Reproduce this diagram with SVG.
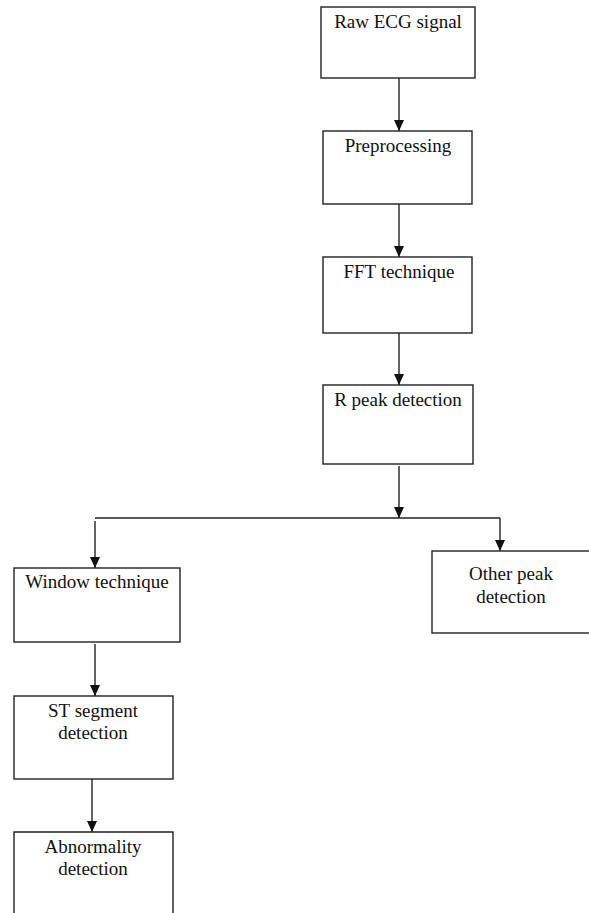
<svg xmlns="http://www.w3.org/2000/svg" width="589" height="913" viewBox="0 0 589 913">
<style>
.box{fill:#fff;stroke:#222;stroke-width:1.4}
.lbl{font-family:"Liberation Serif","Times New Roman",serif;font-size:19px;fill:#111;text-anchor:middle}
.edge{fill:none;stroke:#222;stroke-width:1.4}
</style>
<defs>
<marker id="ah" markerUnits="userSpaceOnUse" markerWidth="11" markerHeight="10" refX="11" refY="5" orient="auto">
<path d="M0,0 L11,5 L0,10 z" fill="#111"/>
</marker>
</defs>
<rect width="589" height="913" fill="#fff"/>
<g id="connectors">
<line class="edge" x1="399" y1="78" x2="399" y2="131" marker-end="url(#ah)"/>
<line class="edge" x1="399" y1="204" x2="399" y2="257" marker-end="url(#ah)"/>
<line class="edge" x1="399" y1="333" x2="399" y2="385" marker-end="url(#ah)"/>
<line class="edge" x1="399" y1="466" x2="399" y2="518" marker-end="url(#ah)"/>
<line class="edge" x1="95" y1="518" x2="500" y2="518"/>
<line class="edge" x1="500" y1="518" x2="500" y2="551" marker-end="url(#ah)"/>
<line class="edge" x1="95" y1="521" x2="95" y2="568" marker-end="url(#ah)"/>
<line class="edge" x1="95" y1="644" x2="95" y2="696" marker-end="url(#ah)"/>
<line class="edge" x1="92" y1="779" x2="92" y2="832" marker-end="url(#ah)"/>
</g>
<g id="raw">
<rect class="box" x="321" y="7" width="154" height="71"/>
<text class="lbl" x="398" y="28">Raw ECG signal</text>
</g>
<g id="preprocessing">
<rect class="box" x="323" y="131" width="149" height="73"/>
<text class="lbl" x="398" y="152">Preprocessing</text>
</g>
<g id="fft">
<rect class="box" x="323" y="257" width="149" height="76"/>
<text class="lbl" x="399" y="278">FFT technique</text>
</g>
<g id="rpeak">
<rect class="box" x="323" y="385" width="150" height="79"/>
<text class="lbl" x="398" y="406">R peak detection</text>
</g>
<g id="otherpeak">
<rect class="box" x="432" y="551" width="170" height="82"/>
<text class="lbl" x="511" y="580">Other peak</text>
<text class="lbl" x="511" y="603">detection</text>
</g>
<g id="window">
<rect class="box" x="14" y="568" width="166" height="74"/>
<text class="lbl" x="97" y="588">Window technique</text>
</g>
<g id="stsegment">
<rect class="box" x="14" y="696" width="159" height="83"/>
<text class="lbl" x="93" y="717">ST segment</text>
<text class="lbl" x="93" y="739">detection</text>
</g>
<g id="abnormality">
<path class="box" d="M14,914 V832 H173 V914"/>
<text class="lbl" x="93" y="853">Abnormality</text>
<text class="lbl" x="93" y="875">detection</text>
</g>
</svg>
